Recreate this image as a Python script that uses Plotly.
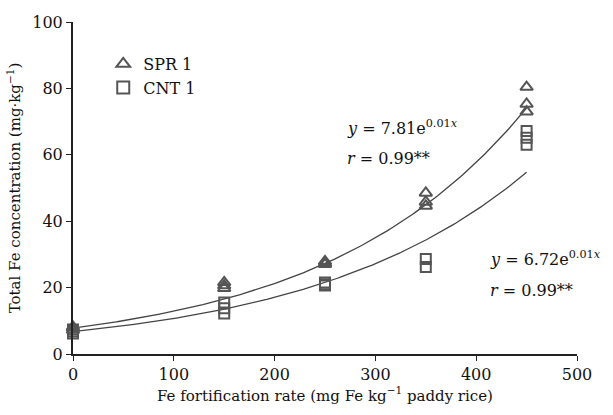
import numpy as np
import plotly.graph_objects as go

# Data
spr_x = [0, 0, 0, 150, 150, 150, 250, 250, 250, 350, 350, 350, 450, 450, 450]
spr_y = [7.2, 7.8, 8.2, 21.6, 20.6, 19.8, 27.4, 27.9, 27.0, 48.5, 45.8, 44.6, 80.4, 75.3, 73.0]
cnt_x = [0, 0, 0, 150, 150, 150, 250, 250, 250, 350, 350, 450, 450, 450]
cnt_y = [6.2, 6.8, 7.4, 15.5, 13.8, 12.2, 21.5, 21.0, 20.6, 28.6, 26.2, 67.2, 65.1, 63.0]

# Fitted exponential trendline coefficients y = a*exp(b*x)
spr_fit = (7.81, 0.0050)
cnt_fit = (6.72, 0.00466)

x_fit = np.linspace(0, 450, 200)

serif = "DejaVu Serif"
mcol = "#555555"
lcol = "#444444"

fig = go.Figure()
fig.add_trace(go.Scatter(x=x_fit, y=spr_fit[0] * np.exp(spr_fit[1] * x_fit), mode="lines",
                         line=dict(color=lcol, width=1.3), showlegend=False, hoverinfo="skip"))
fig.add_trace(go.Scatter(x=x_fit, y=cnt_fit[0] * np.exp(cnt_fit[1] * x_fit), mode="lines",
                         line=dict(color=lcol, width=1.3), showlegend=False, hoverinfo="skip"))
fig.add_trace(go.Scatter(x=spr_x, y=spr_y, mode="markers", name="SPR 1",
                         marker=dict(symbol="triangle-up-open", size=11, color=mcol, line=dict(width=2)),
                         cliponaxis=False))
fig.add_trace(go.Scatter(x=cnt_x, y=cnt_y, mode="markers", name="CNT 1",
                         marker=dict(symbol="square-open", size=10, color=mcol, line=dict(width=2)),
                         cliponaxis=False))

W, H = 613, 415
L, R, T, B = 73, 36, 22, 61
pw, ph = W - L - R, H - T - B

ann_font = dict(family=serif, size=16, color="#111111")
annotations = [
    (345, 128, "<i>y</i> = 7.81e<sup>0.01<i>x</i></sup>"),
    (345, 158, "<i>r</i> = 0.99**"),
    (488, 258, "<i>y</i> = 6.72e<sup>0.01<i>x</i></sup>"),
    (488, 290, "<i>r</i> = 0.99**"),
]
for px, py, txt in annotations:
    fig.add_annotation(x=(px - L) / pw, y=1 - (py - T) / ph, xref="paper", yref="paper", text=txt,
                       showarrow=False, xanchor="left", yanchor="middle", font=ann_font)

fig.update_layout(
    width=W, height=H,
    margin=dict(l=L, r=R, t=T, b=B),
    plot_bgcolor="white", paper_bgcolor="white",
    font=dict(family=serif, size=16, color="#111111"),
    legend=dict(x=0.06, y=0.925, xanchor="left", yanchor="top",
                bgcolor="rgba(0,0,0,0)", font=dict(family=serif, size=16, color="#111111"),
                itemsizing="constant", tracegroupgap=0),
    xaxis=dict(range=[0, 500], tickvals=[0, 100, 200, 300, 400, 500],
               showline=True, linecolor="#222222", linewidth=2, ticks="outside",
               ticklen=5, tickcolor="#222222", showgrid=False, zeroline=False,
               title=dict(text="Fe fortification rate (mg Fe kg<sup>−1</sup> paddy rice)",
                          font=dict(family=serif, size=15, color="#111111"), standoff=7),
               tickfont=dict(family=serif, size=16, color="#111111")),
    yaxis=dict(range=[0, 100], tickvals=[0, 20, 40, 60, 80, 100],
               showline=True, linecolor="#222222", linewidth=2, ticks="outside",
               ticklen=5, tickcolor="#222222", showgrid=False, zeroline=False,
               title=dict(text="Total Fe concentration (mg·kg<sup>−1</sup>)",
                          font=dict(family=serif, size=15, color="#111111"), standoff=8),
               tickfont=dict(family=serif, size=16, color="#111111")),
)

fig.write_html("out.html")
